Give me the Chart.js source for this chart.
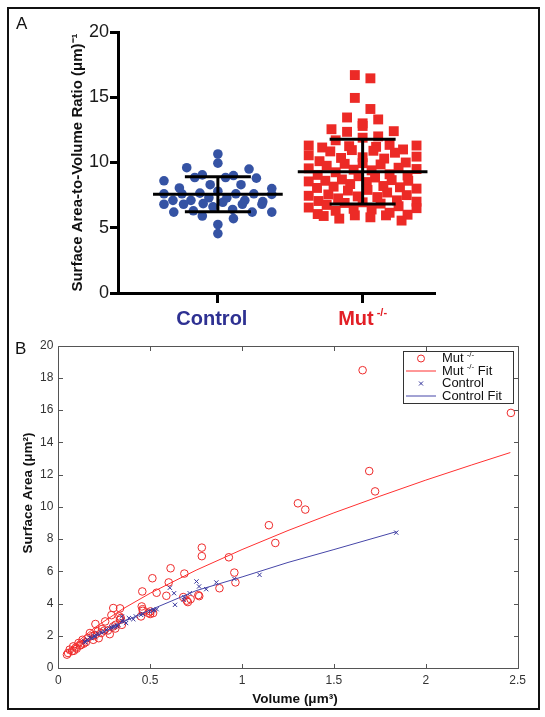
<!DOCTYPE html>
<html>
<head>
<meta charset="utf-8">
<script src="https://cdn.jsdelivr.net/npm/chart.js@4.4.1/dist/chart.umd.min.js"></script>
<style>
  html, body { margin: 0; padding: 0; background: #fff; }
  #fig { position: relative; width: 545px; height: 717px; overflow: hidden; font-family: "Liberation Sans", Arial, sans-serif; }
  #fig canvas { position: absolute; left: 0; }
  #chartA { top: 0; }
  #chartB { top: 330px; }
  .frame { position: absolute; left: 7px; top: 7px; width: 533px; height: 703px; box-sizing: border-box; border: 2px solid #111; pointer-events: none; }
  .panel { position: absolute; font-size: 17px; line-height: 1; color: #111; }
</style>
</head>
<body>
<div id="fig">
  <canvas id="chartA" width="545" height="330"></canvas>
  <canvas id="chartB" width="545" height="387"></canvas>
  <div class="frame"></div>
  <div class="panel" style="left:16px;top:15px">A</div>
  <div class="panel" style="left:15px;top:340px">B</div>
</div>
<script>
// ---- panel A: surface area-to-volume ratio, one value per cell
const groups = ['Control', 'Mut'];
const groupSup = ['', '-/-'];
const controlRatio = [10.65, 9.95, 9.6, 9.5, 9.05, 9.0, 8.85, 8.85, 8.8, 8.6, 8.3, 8.3, 8.05, 8.0,
  7.8, 7.65, 7.6, 7.6, 7.6, 7.6, 7.55, 7.3, 7.3, 7.1, 7.1, 7.1, 7.0, 6.95, 6.85, 6.8, 6.8, 6.8,
  6.8, 6.6, 6.4, 6.3, 6.2, 6.2, 6.2, 5.9, 5.7, 5.25, 4.55];
const mutRatio = [16.7, 16.45, 14.95, 14.1, 13.45, 13.3, 13.0, 12.8, 12.55, 12.4, 12.35, 12.0,
  11.9, 11.7, 11.35, 11.3, 11.3, 11.25, 11.2, 11.15, 11.0,
  10.95, 10.9, 10.85, 10.75, 10.55, 10.45, 10.4, 10.35, 10.3, 10.1, 10.0,
  9.95, 9.9, 9.85, 9.75, 9.6, 9.55, 9.5, 9.45, 9.4, 9.25, 9.1, 9.05, 9.0,
  8.95, 8.85, 8.7, 8.65, 8.6, 8.6, 8.55, 8.5, 8.35, 8.2, 8.15, 8.1, 8.05, 8.0,
  7.9, 7.85, 7.7, 7.55, 7.5, 7.45, 7.4, 7.35, 7.25, 7.1, 7.05, 7.0,
  6.95, 6.9, 6.85, 6.75, 6.65, 6.55, 6.5, 6.45, 6.4, 6.3, 6.15, 6.05, 6.0,
  5.95, 5.95, 5.9, 5.8, 5.7, 5.55];
const groupMean = [7.57, 9.30];
const groupSD = [1.34, 2.48];
const ratioTicks = [0, 5, 10, 15, 20];

// ---- panel B: surface area vs volume
const mutVolume = [1.656, 2.463, 1.692, 1.724, 1.304, 1.344, 1.146, 1.181, 0.781, 0.781, 0.928,
  0.611, 0.686, 0.958, 0.964, 0.877, 0.512, 0.601, 0.457, 0.535, 0.588, 0.680, 0.762, 0.767,
  0.720, 0.705, 0.699, 0.299, 0.336, 0.454, 0.459, 0.501, 0.516, 0.450, 0.289, 0.333, 0.490,
  0.255, 0.202, 0.238, 0.299, 0.312, 0.270, 0.172, 0.189, 0.161, 0.132, 0.110, 0.138, 0.081,
  0.096, 0.062, 0.085, 0.047, 0.053, 0.119, 0.214, 0.233, 0.251, 0.336, 0.346, 0.220, 0.200,
  0.125, 0.190, 0.075, 0.100, 0.150, 0.310, 0.280, 0.340, 0.460, 0.500];
const mutArea = [18.48, 15.83, 12.22, 10.96, 10.22, 9.83, 8.86, 7.76, 7.47, 6.94, 6.87,
  6.19, 5.86, 5.92, 5.31, 4.95, 5.57, 5.31, 4.75, 4.67, 4.48, 4.40, 4.52, 4.46,
  4.27, 4.09, 4.18, 3.72, 3.70, 3.82, 3.65, 3.51, 3.41, 3.20, 3.28, 3.20, 3.42,
  2.89, 2.73, 2.42, 2.58, 2.68, 2.33, 2.17, 2.00, 1.86, 1.75, 1.55, 1.51, 1.34,
  1.28, 1.14, 1.07, 0.83, 0.93, 1.40, 2.27, 2.17, 2.33, 2.99, 2.68, 1.85, 2.05,
  1.45, 1.75, 1.05, 1.20, 1.60, 2.45, 2.10, 3.10, 3.55, 3.35];
const controlVolume = [1.839, 1.095, 0.958, 0.860, 0.752, 0.766, 0.805, 0.607, 0.630, 0.635,
  0.715, 0.686, 0.682, 0.535, 0.516, 0.497, 0.459, 0.422, 0.408, 0.384, 0.369, 0.346, 0.327,
  0.308, 0.289, 0.261, 0.233, 0.214, 0.195, 0.172, 0.157, 0.142, 0.147, 0.346, 0.250, 0.280,
  0.200, 0.180, 0.320, 0.450, 0.360, 0.520, 0.300];
const controlArea = [8.40, 5.78, 5.53, 5.31, 5.37, 5.06, 4.89, 4.98, 4.64, 3.92,
  4.64, 4.40, 4.23, 3.65, 3.57, 3.51, 3.36, 3.20, 3.03, 3.10, 2.79, 2.91, 2.68,
  2.58, 2.52, 2.37, 2.21, 2.13, 2.00, 1.90, 1.75, 1.65, 1.59, 3.20, 2.25, 2.45,
  1.95, 1.85, 2.60, 3.30, 2.90, 3.60, 2.55];
const mutFitVolume = [0.05, 0.10, 0.20, 0.35, 0.50, 0.75, 1.00, 1.25, 1.50, 1.75, 2.00, 2.25, 2.46];
const mutFitArea = [0.90, 1.59, 2.52, 3.66, 4.64, 6.07, 7.35, 8.53, 9.63, 10.66, 11.66, 12.60, 13.37];
const controlFitVolume = [0.14, 0.25, 0.35, 0.50, 0.75, 1.00, 1.25, 1.50, 1.84];
const controlFitArea = [1.55, 2.25, 2.85, 3.60, 4.80, 5.65, 6.55, 7.35, 8.46];
const volumeTicks = [0, 0.5, 1, 1.5, 2, 2.5];
const areaTicks = [0, 2, 4, 6, 8, 10, 12, 14, 16, 18, 20];

const FONT = '"Liberation Sans", Arial, sans-serif';
Chart.defaults.font.family = FONT;

const blueDot = '#3553a4', redSquare = '#ec2a26';
const blueText = '#2e3192', redText = '#e21f26';

// GraphPad-like column scatter: values binned into bands, each band spread side by side
const PX_PER_X = 145;
function swarm(values, center, band, step, spread) {
  const bins = new Map();
  values.forEach(v => {
    const b = Math.floor(v / band);
    if (!bins.has(b)) bins.set(b, []);
    bins.get(b).push(v);
  });
  const out = [];
  bins.forEach(list => {
    list.sort((a, b) => b - a);
    const n = list.length, mid = (n - 1) / 2;
    const gap = n > 1 ? Math.max(step, Math.min(2 * step, spread / (n - 1))) : step;
    const byCenter = arr => arr.sort((a, b) => Math.abs(a - mid) - Math.abs(b - mid) || a - b);
    const slots = [...Array(n).keys()];
    const order = byCenter(slots.filter(j => j % 2 === 0)).concat(byCenter(slots.filter(j => j % 2 === 1)));
    list.forEach((v, k) => out.push({ x: center + (order[k] - mid) * gap / PX_PER_X, y: v }));
  });
  return out;
}

const zip = (xs, ys) => xs.map((x, i) => ({ x, y: ys[i] }));

// mean and SD bars
const barSets = [];
groups.forEach((g, i) => {
  const c = i + 1, m = groupMean[i], s = groupSD[i];
  const seg = pts => ({ data: pts, showLine: true, borderColor: '#000', borderWidth: 3, pointRadius: 0, borderCapStyle: 'butt' });
  barSets.push(seg([{ x: c - 0.448, y: m }, { x: c + 0.448, y: m }]));
  barSets.push(seg([{ x: c - 0.228, y: m + s }, { x: c + 0.228, y: m + s }]));
  barSets.push(seg([{ x: c - 0.228, y: m - s }, { x: c + 0.228, y: m - s }]));
  barSets.push(seg([{ x: c, y: m - s }, { x: c, y: m + s }]));
});

const catLabels = {
  id: 'catLabels',
  afterDraw(chart) {
    const { ctx, scales: { x } } = chart;
    const colors = [blueText, redText];
    const shift = [-6, 0];
    ctx.save();
    ctx.textBaseline = 'alphabetic';
    ctx.textAlign = 'left';
    groups.forEach((g, i) => {
      ctx.font = 'bold 20px ' + FONT;
      const w = ctx.measureText(g).width;
      let ws = 0;
      if (groupSup[i]) { ctx.font = 'bold 11px ' + FONT; ws = ctx.measureText(groupSup[i]).width + 3; }
      const left = x.getPixelForValue(i + 1) + shift[i] - (w + ws) / 2;
      ctx.fillStyle = colors[i];
      ctx.font = 'bold 20px ' + FONT;
      ctx.fillText(g, left, 325);
      if (groupSup[i]) {
        ctx.font = 'bold 11px ' + FONT;
        ctx.fillText(groupSup[i], left + w + 3, 316);
      }
    });
    ctx.restore();
  }
};

new Chart(document.getElementById('chartA'), {
  type: 'scatter',
  data: {
    datasets: [...barSets,
      { data: swarm(controlRatio, 1, 1, 7.8, 108), pointStyle: 'circle', pointRadius: 4.8, backgroundColor: blueDot, borderWidth: 0 },
      { data: swarm(mutRatio, 2, 1, 7.8, 108), pointStyle: 'rect', pointRadius: 7, backgroundColor: redSquare, borderWidth: 0 }
    ]
  },
  options: {
    responsive: false, animation: false, events: [],
    layout: { padding: { top: 32, right: 110, left: 0, bottom: 0 } },
    plugins: { legend: { display: false }, tooltip: { enabled: false } },
    scales: {
      x: {
        type: 'linear', min: 0.31, max: 2.5,
        afterBuildTicks: s => { s.ticks = groups.map((g, i) => ({ value: i + 1 })); },
        ticks: { callback: () => '' },
        grid: { drawOnChartArea: false, tickLength: 10, tickWidth: 3, tickColor: '#000' },
        border: { width: 3, color: '#000' },
        afterFit: s => { s.height = 37; }
      },
      y: {
        min: 0, max: 20,
        afterBuildTicks: s => { s.ticks = ratioTicks.map(v => ({ value: v })); },
        ticks: { font: { size: 18 }, color: '#1a1a1a', padding: 1 },
        grid: { drawOnChartArea: false, tickLength: 8, tickWidth: 3, tickColor: '#000' },
        border: { width: 3, color: '#000' },
        title: { display: true, text: 'Surface Area-to-Volume Ratio (μm)⁻¹', color: '#111',
                 font: { size: 15, weight: 'bold' }, padding: { top: 69, bottom: 0 } },
        afterFit: s => { s.width = 118; }
      }
    }
  },
  plugins: [catLabels]
});

// ---- panel B
const mutLine = '#ff3030', ctrlLine = '#4646a8', mutMark = '#ee2a2a', ctrlMark = '#33339a';
const legendRows = [
  { text: 'Mut', sup: '-/-', after: '', kind: 'circle', color: mutMark },
  { text: 'Mut', sup: '-/-', after: ' Fit', kind: 'line', color: mutLine },
  { text: 'Control', sup: '', after: '', kind: 'cross', color: ctrlMark },
  { text: 'Control Fit', sup: '', after: '', kind: 'line', color: ctrlLine }
];
const xTitleB = 'Volume (μm³)';
const yTitleB = 'Surface Area (μm²)';

const boxAndLegend = {
  id: 'boxAndLegend',
  afterDraw(chart) {
    const { ctx, chartArea: a, scales: { x, y } } = chart;
    ctx.save();
    ctx.strokeStyle = '#555';
    ctx.lineWidth = 1;
    const L = Math.round(a.left) + 0.5, R = Math.round(a.right) + 0.5;
    const T = Math.round(a.top) + 0.5, B = Math.round(a.bottom) + 0.5;
    ctx.beginPath();
    ctx.rect(L, T, R - L, B - T);
    x.ticks.forEach(t => {
      const px = Math.round(x.getPixelForValue(t.value)) + 0.5;
      ctx.moveTo(px, B); ctx.lineTo(px, B - 4.5);
      ctx.moveTo(px, T); ctx.lineTo(px, T + 4.5);
    });
    y.ticks.forEach(t => {
      const py = Math.round(y.getPixelForValue(t.value)) + 0.5;
      ctx.moveTo(L, py); ctx.lineTo(L + 4.5, py);
      ctx.moveTo(R, py); ctx.lineTo(R - 4.5, py);
    });
    ctx.stroke();

    // axis titles
    ctx.fillStyle = '#111';
    ctx.textAlign = 'center';
    ctx.textBaseline = 'middle';
    ctx.font = 'bold 13.5px ' + FONT;
    ctx.fillText(xTitleB, 295, 369);
    ctx.save();
    ctx.translate(28, 163);
    ctx.rotate(-Math.PI / 2);
    ctx.font = 'bold 13.5px ' + FONT;
    ctx.fillText(yTitleB, 0, 0);
    ctx.restore();

    // legend box
    ctx.fillStyle = '#fff';
    ctx.fillRect(403.5, 21.5, 110, 52);
    ctx.strokeStyle = '#333';
    ctx.strokeRect(403.5, 21.5, 110, 52);
    legendRows.forEach((r, i) => {
      const yy = 28.5 + i * 12.5;
      ctx.strokeStyle = r.color;
      ctx.lineWidth = 1;
      ctx.beginPath();
      if (r.kind === 'line') { ctx.moveTo(406, yy); ctx.lineTo(436, yy); }
      else if (r.kind === 'circle') { ctx.arc(421, yy, 3.5, 0, Math.PI * 2); }
      else { ctx.moveTo(419, yy - 2); ctx.lineTo(423, yy + 2); ctx.moveTo(423, yy - 2); ctx.lineTo(419, yy + 2); }
      ctx.stroke();
      ctx.fillStyle = '#111';
      ctx.textBaseline = 'middle';
      ctx.textAlign = 'left';
      ctx.font = '13px ' + FONT;
      let tx = 442;
      ctx.fillText(r.text, tx, yy);
      tx += ctx.measureText(r.text).width;
      if (r.sup) {
        ctx.font = '8px ' + FONT;
        ctx.fillText(r.sup, tx + 3, yy - 4);
        tx += 3 + ctx.measureText(r.sup).width;
        ctx.font = '13px ' + FONT;
      }
      if (r.after) ctx.fillText(r.after, tx, yy);
    });
    ctx.restore();
  }
};

new Chart(document.getElementById('chartB'), {
  type: 'scatter',
  data: {
    datasets: [
      { label: 'Control Fit', data: zip(controlFitVolume, controlFitArea), showLine: true, borderColor: ctrlLine, borderWidth: 1, pointRadius: 0 },
      { label: 'Control', data: zip(controlVolume, controlArea), pointStyle: 'crossRot', pointRadius: 3, borderColor: ctrlMark, borderWidth: 1 },
      { label: 'Mut Fit', data: zip(mutFitVolume, mutFitArea), showLine: true, borderColor: mutLine, borderWidth: 1, pointRadius: 0 },
      { label: 'Mut', data: zip(mutVolume, mutArea), pointStyle: 'circle', pointRadius: 3.8, borderColor: mutMark, backgroundColor: 'rgba(0,0,0,0)', borderWidth: 1 }
    ]
  },
  options: {
    responsive: false, animation: false, events: [],
    layout: { padding: { top: 15.7, right: 27.3, left: 0, bottom: 0 } },
    plugins: { legend: { display: false }, tooltip: { enabled: false } },
    scales: {
      x: {
        type: 'linear', min: 0, max: 2.5,
        afterBuildTicks: s => { s.ticks = volumeTicks.map(v => ({ value: v })); },
        ticks: { font: { size: 12 }, color: '#333', padding: 5, callback: v => String(v) },
        grid: { display: true, drawOnChartArea: false, drawTicks: false },
        border: { display: false },
        afterFit: s => { s.height = 49; }
      },
      y: {
        min: 0, max: 20,
        afterBuildTicks: s => { s.ticks = areaTicks.map(v => ({ value: v })); },
        ticks: { font: { size: 12 }, color: '#333', padding: 5, callback: v => String(v) },
        grid: { display: true, drawOnChartArea: false, drawTicks: false },
        border: { display: false },
        afterFit: s => { s.width = 58.3; }
      }
    }
  },
  plugins: [boxAndLegend]
});
</script>
</body>
</html>
